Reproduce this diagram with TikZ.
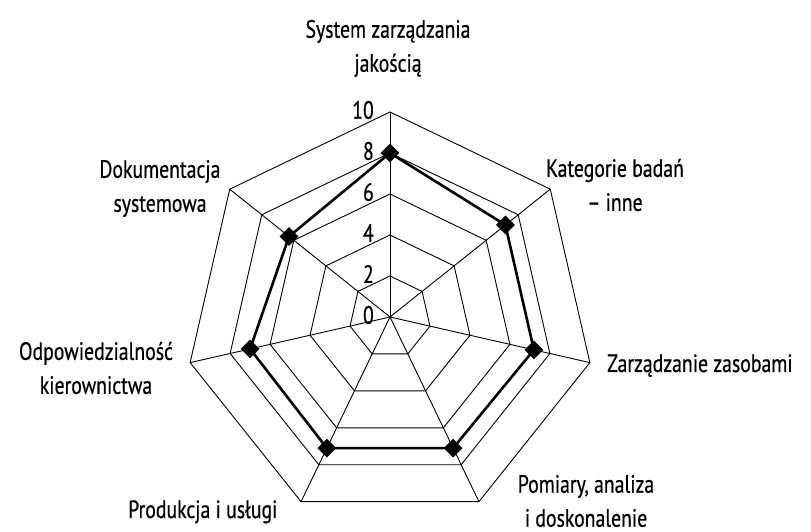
\documentclass[tikz,border=0pt]{standalone}
\usepackage{fontspec}
\setmainfont{PT Sans}[FakeStretch=0.79,FakeBold=0.6]
\usetikzlibrary{shapes.geometric}
\begin{document}
\begin{tikzpicture}[x=1pt,y=1pt,
  gridline/.style={draw=black,line width=0.9pt,line join=miter},
  dataline/.style={draw=black,line width=2.6pt,line join=miter},
  marker/.style={diamond,fill=black,draw=none,inner sep=0pt,minimum width=19pt,minimum height=19pt},
  lbl/.style={font=\fontsize{25}{34}\selectfont,inner sep=0pt,align=center},
  num/.style={font=\fontsize{25}{28}\selectfont,inner sep=0pt,anchor=east}]
\useasboundingbox (0,0) rectangle (811,532);
\fill[white] (0,0) rectangle (811,532);
\begin{scope}[shift={(390,215)}]
  \coordinate (C) at (0,0);
  % outer vertices
  \foreach \k in {0,...,6} {
    \coordinate (V\k) at ({90-\k*360/7}:205);
  }
  % rings
  \foreach \r in {2,4,6,8,10} {
    \draw[gridline] (90:{\r*20.5})
      \foreach \k in {1,...,6} { -- ({90-\k*360/7}:{\r*20.5}) } -- cycle;
  }
  % spokes
  \foreach \k in {0,...,6} {
    \draw[gridline] (C) -- (V\k);
  }
  % data points
  \foreach \v [count=\i from 0] in {8,7.2,7.2,7.1,7.1,7.0,6.3} {
    \coordinate (D\i) at ({90-\i*360/7}:{\v*20.5});
  }
  \draw[dataline] (D0) -- (D1) -- (D2) -- (D3) -- (D4) -- (D5) -- (D6) -- cycle;
  \foreach \i in {0,...,6} {
    \node[marker] (m\i) at (D\i) {};
  }
  % scale numbers
  \foreach \n in {0,2,4,6,8,10} {
    \node[num] (n\n) at (-16,{\n*20.5+2}) {\n};
  }
\end{scope}
% axis labels (image y converted: y = 532 - y_img)
\node[lbl] (l0) at (388,483.5) {System zarządzania\\jakością};
\node[lbl] (l1) at (615,347) {Kategorie badań\\– inne};
\node[lbl,anchor=base west] (l2) at (607,160) {Zarządzanie zasobami};
\node[lbl] (l3) at (586,31) {Pomiary, analiza\\i doskonalenie};
\node[lbl,anchor=base west] (l4) at (128,14) {Produkcja i usługi};
\node[lbl] (l5) at (96,164) {Odpowiedzialność\\kierownictwa};
\node[lbl] (l6) at (160,343.5) {Dokumentacja\\systemowa};
\end{tikzpicture}
\end{document}
